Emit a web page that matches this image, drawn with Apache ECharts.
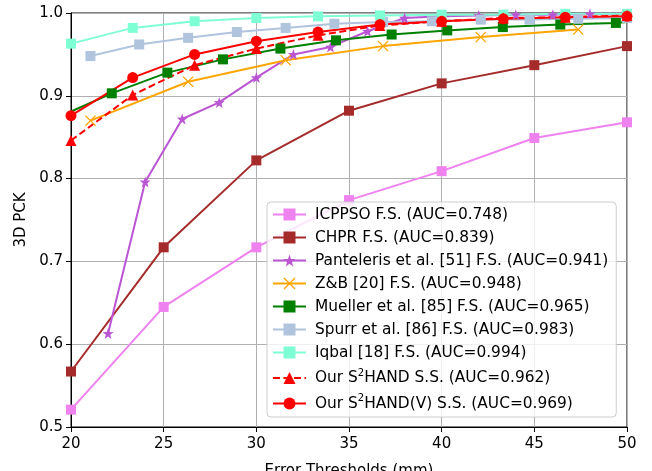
<!DOCTYPE html>
<html>
<head>
<meta charset="utf-8">
<script src="https://cdn.jsdelivr.net/npm/echarts@6/dist/echarts.min.js"></script>
<style>
html,body{margin:0;padding:0;background:#fff;}
#chart{width:652px;height:471px;}
</style>
</head>
<body>
<div id="chart"></div>
<script>
// ---- data ----
var seriesNames = [
  'ICPPSO F.S. (AUC=0.748)',
  'CHPR F.S. (AUC=0.839)',
  'Panteleris et al. [51] F.S. (AUC=0.941)',
  'Z&B [20] F.S. (AUC=0.948)',
  'Mueller et al. [85] F.S. (AUC=0.965)',
  'Spurr et al. [86] F.S. (AUC=0.983)',
  'Iqbal [18] F.S. (AUC=0.994)',
  'Our S\u00b2HAND S.S. (AUC=0.962)',
  'Our S\u00b2HAND(V) S.S. (AUC=0.969)'
];
var icppsoX = [20, 25, 30, 35, 40, 45, 50];
var icppsoY = [0.521, 0.645, 0.717, 0.774, 0.809, 0.849, 0.868];
var chprX = [20, 25, 30, 35, 40, 45, 50];
var chprY = [0.567, 0.717, 0.822, 0.882, 0.915, 0.937, 0.960];
var pantX = [22, 24, 26, 28, 30, 32, 34, 36, 38, 40, 42, 44, 46, 48, 50];
var pantY = [0.613, 0.796, 0.872, 0.892, 0.922, 0.950, 0.959, 0.978, 0.994, 0.996, 0.997, 0.998, 0.998, 0.999, 0.999];
var zbX = [21.05, 26.32, 31.58, 36.84, 42.11, 47.37];
var zbY = [0.870, 0.917, 0.943, 0.960, 0.971, 0.980];
var muellerX = [20, 22.2, 25.2, 28.2, 31.3, 34.3, 37.3, 40.3, 43.3, 46.4, 49.4, 50];
var muellerY = [0.881, 0.903, 0.928, 0.944, 0.957, 0.967, 0.974, 0.979, 0.983, 0.986, 0.988, 0.989];
var muellerMarked = [false, true, true, true, true, true, true, true, true, true, true, false];
var spurrX = [21.05, 23.68, 26.32, 28.95, 31.58, 34.21, 36.84, 39.47, 42.11, 44.74, 47.37, 50];
var spurrY = [0.948, 0.962, 0.970, 0.977, 0.982, 0.987, 0.989, 0.990, 0.992, 0.992, 0.993, 0.994];
var iqbalX = [20, 23.33, 26.67, 30, 33.33, 36.67, 40, 43.33, 46.67, 50];
var iqbalY = [0.963, 0.982, 0.990, 0.994, 0.996, 0.997, 0.998, 0.998, 0.999, 0.999];
var oursX = [20, 23.33, 26.67, 30, 33.33, 36.67, 40, 43.33, 46.67, 50];
var oursY = [0.846, 0.901, 0.937, 0.957, 0.973, 0.985, 0.990, 0.994, 0.995, 0.997];
var oursVX = [20, 23.33, 26.67, 30, 33.33, 36.67, 40, 43.33, 46.67, 50];
var oursVY = [0.876, 0.922, 0.950, 0.966, 0.977, 0.986, 0.990, 0.993, 0.995, 0.996];
var xTicks = {min: 20, max: 50, interval: 5};
var yTicks = {min: 0.5, max: 1.0, interval: 0.1};

// ---- styling ----
var STAR = 'path://M0,-10 L2.35,-3.24 L9.51,-3.09 L3.8,1.24 L5.88,8.09 L0,4 L-5.88,8.09 L-3.8,1.24 L-9.51,-3.09 L-2.35,-3.24Z';
var XMARK = 'path://M-5,-4.2 L-4.2,-5 L0,-0.8 L4.2,-5 L5,-4.2 L0.8,0 L5,4.2 L4.2,5 L0,0.8 L-4.2,5 L-5,4.2 L-0.8,0Z';
var FONT = 'DejaVu Sans';
var FS = 15;
var LFS = 15.4;

function pairs(xs, ys, marked) {
  return xs.map(function (x, i) {
    if (marked && !marked[i]) return {value: [x, ys[i]], symbol: 'none'};
    return [x, ys[i]];
  });
}
function mk(name, xs, ys, color, symbol, size, dashed, marked) {
  return {
    name: name, type: 'line', data: pairs(xs, ys, marked),
    symbol: symbol, symbolSize: size, showAllSymbol: true,
    lineStyle: {color: color, width: 2, type: dashed ? [7, 3.5] : 'solid'},
    itemStyle: {color: color, borderWidth: 0},
    emphasis: {disabled: true}, clip: true, animation: false
  };
}

var series = [
  mk(seriesNames[0], icppsoX, icppsoY, '#EE82EE', 'rect', 10),
  mk(seriesNames[1], chprX, chprY, '#A52A2A', 'rect', 10),
  mk(seriesNames[2], pantX, pantY, '#BA55D3', STAR, 11),
  mk(seriesNames[3], zbX, zbY, '#FFA500', XMARK, 11),
  mk(seriesNames[4], muellerX, muellerY, '#008000', 'rect', 10, false, muellerMarked),
  mk(seriesNames[5], spurrX, spurrY, '#B0C4DE', 'rect', 10),
  mk(seriesNames[6], iqbalX, iqbalY, '#7FFFD4', 'rect', 10),
  mk(seriesNames[7], oursX, oursY, '#FF0000', 'triangle', 11, true),
  mk(seriesNames[8], oursVX, oursVY, '#FF0000', 'circle', 11)
];

var chart = echarts.init(document.getElementById('chart'), null, {renderer: 'canvas'});
chart.setOption({
  animation: false,
  backgroundColor: '#ffffff',
  textStyle: {fontFamily: FONT},
  grid: {left: 71, right: 25, top: 13, bottom: 44, containLabel: false, outerBoundsMode: 'none',
    show: true, borderColor: '#000', borderWidth: 1, backgroundColor: 'transparent'},
  xAxis: {
    type: 'value', min: xTicks.min, max: xTicks.max, interval: xTicks.interval,
    name: 'Error Thresholds (mm)', nameLocation: 'middle', nameGap: 37,
    nameTextStyle: {fontSize: FS, color: '#000', fontFamily: FONT},
    axisLine: {show: true, lineStyle: {color: '#000', width: 1}},
    axisTick: {show: true, inside: false, length: 5, lineStyle: {color: '#000'}},
    axisLabel: {fontSize: FS, color: '#000', fontFamily: FONT, margin: 10},
    splitLine: {show: true, lineStyle: {color: '#b0b0b0', width: 1}}
  },
  yAxis: {
    type: 'value', min: yTicks.min, max: yTicks.max, interval: yTicks.interval,
    name: '3D PCK', nameLocation: 'middle', nameGap: 42, nameRotate: 90,
    nameTextStyle: {fontSize: FS, color: '#000', fontFamily: FONT},
    axisLine: {show: true, lineStyle: {color: '#000', width: 1}},
    axisTick: {show: true, inside: false, length: 5, lineStyle: {color: '#000'}},
    axisLabel: {fontSize: FS, color: '#000', fontFamily: FONT, margin: 8,
      formatter: function (v) { return v.toFixed(1); }},
    splitLine: {show: true, lineStyle: {color: '#b0b0b0', width: 1}}
  },
  legend: {
    orient: 'vertical', left: 267, top: 202,
    padding: [5, 8, 6, 5], itemGap: 8, itemWidth: 33, itemHeight: 15,
    backgroundColor: 'rgba(255,255,255,0.8)', borderColor: '#cccccc', borderWidth: 1, borderRadius: 4,
    textStyle: {fontSize: LFS, color: '#000', fontFamily: FONT, padding: [0, 0, 0, 4],
      rich: {sup: {fontSize: 10, fontFamily: FONT, color: '#000', padding: [0, 0, 10, 0]}}},
    formatter: function (name) { return name.replace('\u00b2', '{sup|2}'); },
    selectedMode: false,
    data: seriesNames
  },
  series: series
});
</script>
</body>
</html>
